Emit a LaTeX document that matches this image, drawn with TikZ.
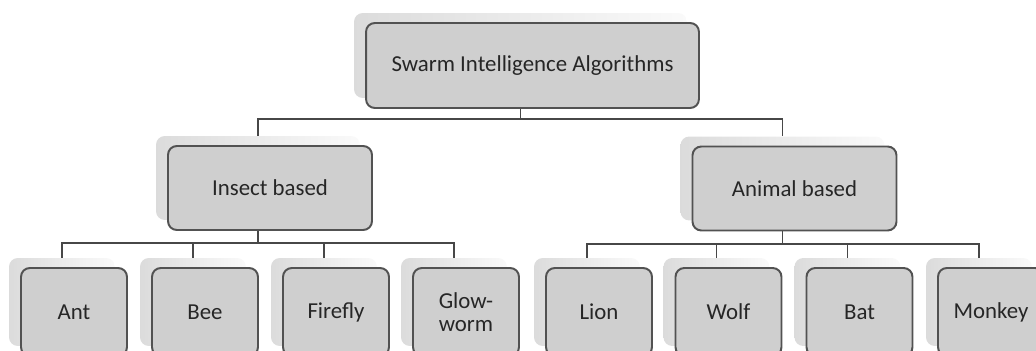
\documentclass[tikz,border=0pt]{standalone}
\usepackage{fontspec}
\setmainfont{Carlito}
\usetikzlibrary{positioning,calc}

\begin{document}
\begin{tikzpicture}[x = 0.02cm, y = -0.02cm, font = \fontsize{13}{13}\selectfont]
    \tikzset{
      back/.style = {rounded corners = 5pt, left color = black!14, right color = black!2,
                     minimum width = 2.12cm, minimum height = 1.76cm, inner sep = 0pt},
      box/.style = {draw = black!68, line width = 1.1pt, fill = black!19, rounded corners = 5pt,
                    text = black!85, align = center, inner sep = 0pt,
                    minimum width = 2.12cm, minimum height = 1.76cm},
      topsize/.style = {minimum width = 6.66cm, minimum height = 1.7cm},
      midsize/.style = {minimum width = 4.08cm, minimum height = 1.68cm},
      link/.style = {draw = black!72, line width = 1.1pt},
    }
    \useasboundingbox (0, 0) rectangle (1036, 351);
    \clip (0, 0) rectangle (1036, 351);

    % shadows (connectors start and end on these)
    \node [back, topsize] (swarm) at (520.5, 55.5) {};
    \node [back, midsize] (insect) at (258, 178) {};
    \node [back, midsize] (animal) at (782.5, 178.5) {};
    \node [back] (ant) at (62, 302) {};
    \node [back] (bee) at (193, 302) {};
    \node [back] (firefly) at (324, 302) {};
    \node [back] (glow) at (454, 302) {};
    \node [back] (lion) at (587, 302) {};
    \node [back] (wolf) at (716.5, 302) {};
    \node [back] (bat) at (847.5, 302) {};
    \node [back] (monkey) at (979, 302) {};

    \draw [link] (swarm.south) -- ++(0, 21) -| (insect.north);
    \draw [link] (swarm.south) -- ++(0, 21) -| (animal.north);
    \foreach \leaf in {ant, bee, firefly, glow}
      \draw [link] (insect.south) -- ++(0, 23) -| (\leaf.north);
    \foreach \leaf in {lion, wolf, bat, monkey}
      \draw [link] (animal.south) -- ++(0, 23) -| (\leaf.north);

    % front boxes
    \node [box, topsize] (swarm-f) at ($(swarm) + (12, 10)$) {Swarm Intelligence Algorithms};
    \node [box, midsize] (insect-f) at ($(insect) + (12, 10)$) {Insect based};
    \node [box, midsize] (animal-f) at ($(animal) + (12, 10)$) {Animal based};
    \node [box] (ant-f) at ($(ant) + (12, 10)$) {Ant};
    \node [box] (bee-f) at ($(bee) + (12, 10)$) {Bee};
    \node [box] (firefly-f) at ($(firefly) + (12, 10)$) {Firefly};
    \node [box] (glow-f) at ($(glow) + (12, 10)$) {Glow-\\worm};
    \node [box] (lion-f) at ($(lion) + (12, 10)$) {Lion};
    \node [box] (wolf-f) at ($(wolf) + (12, 10)$) {Wolf};
    \node [box] (bat-f) at ($(bat) + (12, 10)$) {Bat};
    \node [box] (monkey-f) at ($(monkey) + (12, 10)$) {Monkey};
  \end{tikzpicture}
\end{document}
